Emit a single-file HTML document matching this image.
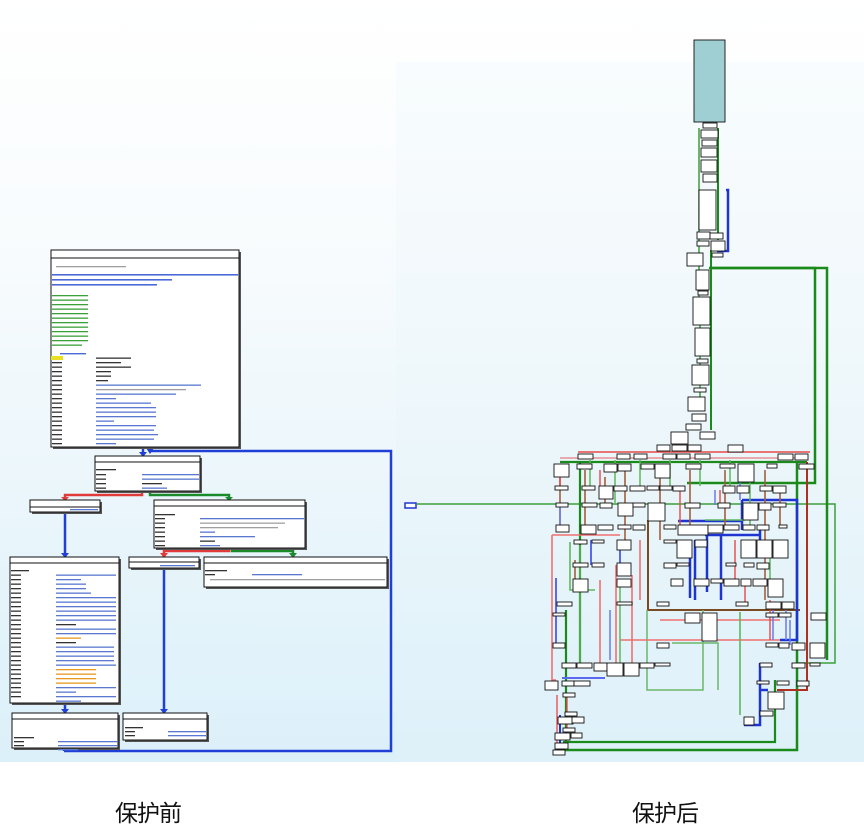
<!DOCTYPE html>
<html><head><meta charset="utf-8"><style>
html,body{margin:0;padding:0;width:864px;height:833px;overflow:hidden;background:#fff}
.lbl{position:absolute;top:794px;font-family:"Liberation Sans","Noto Sans CJK SC",sans-serif;font-size:23px;color:#111;letter-spacing:-1px}
</style></head><body>
<svg width="864" height="833" style="position:absolute;left:0;top:0">
<defs>
<linearGradient id="bg" x1="0" y1="0" x2="0" y2="1">
<stop offset="0" stop-color="#ffffff"/><stop offset="0.35" stop-color="#f7fbfd"/><stop offset="1" stop-color="#dcf0f9"/>
</linearGradient>
</defs>
<rect x="0" y="0" width="864" height="762" fill="url(#bg)"/>
<rect x="396" y="62" width="468" height="700" fill="#e4f3f9" opacity="0.2"/>

<!-- ===== LEFT DIAGRAM ===== -->
<g stroke-width="2.5" fill="none">
<path d="M64,751 H391 V451 H150" stroke="#1f3fd6"/>
<path d="M143,447 V456" stroke="#1f3fd6"/>
<path d="M142,492 V495 H65 V500" stroke="#e03a3a"/>
<path d="M150,492 V495 H229 V500" stroke="#1a8a2a"/>
<path d="M65,512 V557" stroke="#1f3fd6"/>
<path d="M229,548 V551 H164 V557" stroke="#e03a3a"/>
<path d="M232,548 V551 H293 V557" stroke="#1a8a2a"/>
<path d="M164,568 V713" stroke="#1f3fd6"/>
<path d="M65,703 V713" stroke="#1f3fd6"/>
<path d="M64,748 V751" stroke="#1f3fd6"/>
</g>
<g fill="#1f3fd6"><path d="M139,452 L147,452 L143,457Z"/><path d="M146,448 L154,448 L150,454Z"/><path d="M61,553 L69,553 L65,558Z"/><path d="M160,709 L168,709 L164,714Z"/><path d="M61,709 L69,709 L65,714Z"/></g>
<path d="M61,497 L69,497 L65,501Z" fill="#e03a3a"/><path d="M225,497 L233,497 L229,501Z" fill="#1a8a2a"/>
<path d="M160,553 L168,553 L164,558Z" fill="#e03a3a"/><path d="M289,553 L297,553 L293,558Z" fill="#1a8a2a"/>

<g stroke="#111" stroke-width="1" fill="#fff">
<rect x="53" y="252" width="188" height="197" fill="#555" stroke="none"/>
<rect x="51" y="250" width="188" height="197"/>
<rect x="97" y="458" width="105" height="35" fill="#555" stroke="none"/>
<rect x="95" y="456" width="105" height="35"/>
<rect x="32" y="502" width="70" height="12" fill="#555" stroke="none"/>
<rect x="30" y="500" width="70" height="12"/>
<rect x="156" y="502" width="151" height="48" fill="#555" stroke="none"/>
<rect x="154" y="500" width="151" height="48"/>
<rect x="12" y="559" width="109" height="146" fill="#555" stroke="none"/>
<rect x="10" y="557" width="109" height="146"/>
<rect x="131" y="559" width="70" height="11" fill="#555" stroke="none"/>
<rect x="129" y="557" width="70" height="11"/>
<rect x="206" y="559" width="183" height="30" fill="#555" stroke="none"/>
<rect x="204" y="557" width="183" height="30"/>
<rect x="14" y="715" width="106" height="35" fill="#555" stroke="none"/>
<rect x="12" y="713" width="106" height="35"/>
<rect x="125" y="715" width="84" height="27" fill="#555" stroke="none"/>
<rect x="123" y="713" width="84" height="27"/>
<path d="M51,258 H239 M95,462 H200 M30,507 H100 M154,506 H305 M10,563 H119 M129,562 H199 M204,563 H387 M12,719 H118 M123,719 H207" fill="none"/>
</g>
<g fill="#8aa0c8">
<rect x="56" y="266" width="70" height="1.3" fill="#a0a0a0"/>
<rect x="52" y="274" width="186" height="1.6" fill="#4a6ad8"/>
<rect x="52" y="279" width="120" height="1.6" fill="#4a6ad8"/>
<rect x="52" y="284" width="105" height="1.6" fill="#4a6ad8"/>
</g>
<g fill="#3aa03a">
<rect x="52" y="295" width="36" height="1.3"/><rect x="52" y="299.5" width="36" height="1.3"/><rect x="52" y="304" width="36" height="1.3"/><rect x="52" y="308.5" width="36" height="1.3"/><rect x="52" y="313" width="36" height="1.3"/><rect x="52" y="317.5" width="36" height="1.3"/><rect x="52" y="322" width="36" height="1.3"/><rect x="52" y="326.5" width="36" height="1.3"/><rect x="52" y="331" width="36" height="1.3"/><rect x="52" y="335.5" width="36" height="1.3"/><rect x="52" y="340" width="36" height="1.3"/><rect x="52" y="344.5" width="30" height="1.3"/>
</g>
<rect x="60" y="353" width="26" height="1.4" fill="#4a6ad8"/>
<rect x="51" y="356" width="12" height="4" fill="#e8e020"/>
<g fill="#333">
<rect x="52" y="362" width="10" height="1.3"/><rect x="52" y="366.5" width="10" height="1.3"/><rect x="52" y="371" width="10" height="1.3"/><rect x="52" y="375.5" width="10" height="1.3"/><rect x="52" y="380" width="10" height="1.3"/><rect x="52" y="384.5" width="10" height="1.3"/><rect x="52" y="389" width="10" height="1.3"/><rect x="52" y="393.5" width="10" height="1.3"/><rect x="52" y="398" width="10" height="1.3"/><rect x="52" y="402.5" width="10" height="1.3"/><rect x="52" y="407" width="10" height="1.3"/><rect x="52" y="411.5" width="10" height="1.3"/><rect x="52" y="416" width="10" height="1.3"/><rect x="52" y="420.5" width="10" height="1.3"/><rect x="52" y="425" width="10" height="1.3"/><rect x="52" y="429.5" width="10" height="1.3"/><rect x="52" y="434" width="10" height="1.3"/><rect x="52" y="438.5" width="10" height="1.3"/><rect x="52" y="443" width="10" height="1.3"/>
<rect x="96" y="357.5" width="35" height="1.3"/><rect x="96" y="362" width="25" height="1.3"/><rect x="96" y="366.5" width="35" height="1.3"/><rect x="96" y="371" width="15" height="1.3"/><rect x="96" y="375.5" width="15" height="1.3"/><rect x="96" y="380" width="12" height="1.3"/>
</g>
<g fill="#5a78d0">
<rect x="96" y="384.5" width="105" height="1.3"/><rect x="96" y="389" width="90" height="1.3" fill="#a0a0a0"/><rect x="96" y="393.5" width="80" height="1.3"/><rect x="96" y="398" width="20" height="1.3"/><rect x="96" y="402.5" width="55" height="1.3"/><rect x="96" y="407" width="60" height="1.3"/><rect x="96" y="411.5" width="60" height="1.3"/><rect x="96" y="416" width="60" height="1.3"/><rect x="96" y="420.5" width="18" height="1.3"/><rect x="96" y="425" width="60" height="1.3"/><rect x="96" y="429.5" width="58" height="1.3"/><rect x="96" y="434" width="62" height="1.3"/><rect x="96" y="438.5" width="58" height="1.3"/><rect x="96" y="443" width="20" height="1.3"/>
</g>
<g fill="#5a78d0">
<rect x="96" y="469" width="20" height="1.3" fill="#333"/><rect x="96" y="474" width="10" height="1.3" fill="#333"/><rect x="96" y="478.5" width="10" height="1.3" fill="#333"/><rect x="96" y="483" width="10" height="1.3" fill="#333"/><rect x="96" y="487.5" width="10" height="1.3" fill="#333"/>
<rect x="142" y="474" width="57" height="1.3"/><rect x="142" y="478.5" width="57" height="1.3"/><rect x="142" y="483" width="20" height="1.3" fill="#333"/><rect x="142" y="487.5" width="25" height="1.3"/>
<rect x="70" y="509" width="28" height="1.3"/>
<rect x="155" y="514" width="20" height="1.3" fill="#333"/>
<rect x="155" y="518" width="10" height="1.3" fill="#333"/><rect x="155" y="522.5" width="10" height="1.3" fill="#333"/><rect x="155" y="527" width="10" height="1.3" fill="#333"/><rect x="155" y="531.5" width="10" height="1.3" fill="#333"/><rect x="155" y="536" width="10" height="1.3" fill="#333"/><rect x="155" y="540.5" width="10" height="1.3" fill="#333"/><rect x="155" y="545" width="10" height="1.3" fill="#333"/>
<rect x="200" y="518" width="104" height="1.3"/><rect x="200" y="522.5" width="85" height="1.3" fill="#a0a0a0"/><rect x="200" y="527" width="78" height="1.3" fill="#a0a0a0"/><rect x="200" y="531.5" width="15" height="1.3"/><rect x="200" y="536" width="55" height="1.3"/><rect x="200" y="540.5" width="15" height="1.3" fill="#333"/><rect x="200" y="545" width="20" height="1.3"/>
<rect x="160" y="565" width="35" height="1.3"/>
<rect x="205" y="570" width="22" height="1.3" fill="#333"/><rect x="205" y="574" width="10" height="1.3" fill="#333"/><rect x="252" y="574" width="50" height="1.3"/><rect x="210" y="579" width="175" height="1.3" fill="#a0a0a0"/>
<rect x="14" y="737" width="20" height="1.3" fill="#333"/><rect x="14" y="741" width="10" height="1.3" fill="#333"/><rect x="14" y="745" width="10" height="1.3" fill="#333"/><rect x="58" y="741" width="60" height="1.3"/><rect x="58" y="745" width="60" height="1.3"/><rect x="58" y="749" width="20" height="1.3"/>
<rect x="125" y="727" width="18" height="1.3" fill="#333"/><rect x="125" y="731" width="10" height="1.3" fill="#333"/><rect x="125" y="735" width="10" height="1.3" fill="#333"/><rect x="168" y="731" width="38" height="1.3"/><rect x="168" y="735" width="38" height="1.3"/>
</g>
<g fill="#333">
<rect x="11" y="570" width="18" height="1.3"/>
<rect x="11" y="574.5" width="10" height="1.3"/><rect x="11" y="579" width="10" height="1.3"/><rect x="11" y="583.5" width="10" height="1.3"/><rect x="11" y="588" width="10" height="1.3"/><rect x="11" y="592.5" width="10" height="1.3"/><rect x="11" y="597" width="10" height="1.3"/><rect x="11" y="601.5" width="10" height="1.3"/><rect x="11" y="606" width="10" height="1.3"/><rect x="11" y="610.5" width="10" height="1.3"/><rect x="11" y="615" width="10" height="1.3"/><rect x="11" y="619.5" width="10" height="1.3"/><rect x="11" y="624" width="10" height="1.3"/><rect x="11" y="628.5" width="10" height="1.3"/><rect x="11" y="633" width="10" height="1.3"/><rect x="11" y="637.5" width="10" height="1.3"/><rect x="11" y="642" width="10" height="1.3"/><rect x="11" y="646.5" width="10" height="1.3"/><rect x="11" y="651" width="10" height="1.3"/><rect x="11" y="655.5" width="10" height="1.3"/><rect x="11" y="660" width="10" height="1.3"/><rect x="11" y="664.5" width="10" height="1.3"/><rect x="11" y="669" width="10" height="1.3"/><rect x="11" y="673.5" width="10" height="1.3"/><rect x="11" y="678" width="10" height="1.3"/><rect x="11" y="682.5" width="10" height="1.3"/><rect x="11" y="687" width="10" height="1.3"/><rect x="11" y="691.5" width="10" height="1.3"/><rect x="11" y="696" width="10" height="1.3"/>
</g>
<g fill="#5a78d0">
<rect x="56" y="574.5" width="60" height="1.3"/><rect x="56" y="579" width="25" height="1.3"/><rect x="56" y="583.5" width="30" height="1.3"/><rect x="56" y="588" width="30" height="1.3"/><rect x="56" y="592.5" width="35" height="1.3"/><rect x="56" y="597" width="60" height="1.3"/><rect x="56" y="601.5" width="60" height="1.3"/><rect x="56" y="606" width="60" height="1.3"/><rect x="56" y="610.5" width="60" height="1.3"/><rect x="56" y="615" width="60" height="1.3"/><rect x="56" y="619.5" width="60" height="1.3"/><rect x="56" y="624" width="20" height="1.3" fill="#333"/><rect x="56" y="628.5" width="60" height="1.3"/><rect x="56" y="633" width="60" height="1.3"/><rect x="56" y="637.5" width="25" height="1.3" fill="#e89a20"/><rect x="56" y="642" width="20" height="1.3" fill="#333"/><rect x="56" y="646.5" width="58" height="1.3"/><rect x="56" y="651" width="58" height="1.3"/><rect x="56" y="655.5" width="58" height="1.3"/><rect x="56" y="660" width="58" height="1.3"/><rect x="56" y="664.5" width="60" height="1.3"/><rect x="56" y="669" width="40" height="1.3" fill="#e89a20"/><rect x="56" y="673.5" width="40" height="1.3" fill="#e89a20"/><rect x="56" y="678" width="40" height="1.3" fill="#e89a20"/><rect x="56" y="682.5" width="40" height="1.3" fill="#e89a20"/><rect x="56" y="687" width="60" height="1.3"/><rect x="56" y="691.5" width="20" height="1.3"/><rect x="56" y="696" width="60" height="1.3"/><rect x="56" y="700.5" width="25" height="1.3"/>
</g>

<!-- ===== RIGHT DIAGRAM ===== -->
<g fill="none" stroke-linejoin="miter">
<path d="M417,504 H835 V663 H797" stroke="#3aa03a" stroke-width="1.5"/>
<path d="M709,268 H827 V660" stroke="#1a8a1a" stroke-width="2.5"/>
<path d="M712,268 H815 V483 H687" stroke="#1a8a1a" stroke-width="2.5"/>
<path d="M726,190 H728 V251 H717" stroke="#1f35d0" stroke-width="2.5"/>
<path d="M718,128 V240" stroke="#1a8a1a" stroke-width="2"/>
<path d="M699,128 V300 M700,300 V410" stroke="#3aa03a" stroke-width="1.5"/>
<path d="M711,250 V430" stroke="#1a8a1a" stroke-width="2"/>
<path d="M578,452 H810" stroke="#e84848" stroke-width="1.6"/>
<path d="M560,458 H800" stroke="#e84848" stroke-width="1.2" opacity="0.7"/>
<path d="M560,462 H807" stroke="#1a8a1a" stroke-width="2.2"/>
<path d="M580,462 V665 M566,610 V742" stroke="#1a8a1a" stroke-width="2.2"/>
<path d="M557,750 H797 V462" stroke="#1a8a1a" stroke-width="2.5"/>
<path d="M563,742 H775 V680" stroke="#1a8a1a" stroke-width="2.2"/>
<path d="M648,520 V610 H800" stroke="#7a4a20" stroke-width="2"/>
<path d="M647,610 V690 H703 V610" stroke="#6ab86a" stroke-width="1.5"/>
<path d="M672,643 H718 V690" stroke="#6ab86a" stroke-width="1.5"/>
<path d="M552,535 V680 H556 M552,535 H620" stroke="#f07070" stroke-width="1.6"/>
<path d="M600,580 V665 M616,565 V665 M632,575 V665 M640,540 V600" stroke="#f07070" stroke-width="1.6"/>
<path d="M620,640 H790 M660,620 H780" stroke="#f07070" stroke-width="1.6"/>
<path d="M807,462 V690 H777" stroke="#b03020" stroke-width="2"/>
<path d="M742,500 V530 M742,500 H797 V640 H780" stroke="#1f35d0" stroke-width="2.5"/>
<path d="M678,521 H742 M705,535 H760 M695,540 V600 M707,535 V592 M721,535 V600 M690,555 V598 M760,530 V540" stroke="#1f35d0" stroke-width="2.5"/>
<path d="M760,663 V725 H744 M760,690 H768" stroke="#1f35d0" stroke-width="2.5"/>
<path d="M562,678 H605 M556,578 V643 M591,540 V565 M620,540 V563" stroke="#5a6af0" stroke-width="2"/>
<path d="M570,542 V590 H595 M740,677 V715 M705,520 H745 M740,612 V690" stroke="#5cb85c" stroke-width="1.6"/>
<path d="M585,470 V525 M605,477 V503 M625,470 V540 M660,478 V540 M690,470 V525 M725,470 V525 M765,470 V600 M780,490 V525 M560,478 V525 M575,560 V590" stroke="#a06040" stroke-width="1.6"/>
<path d="M590,460 V486 M615,460 V503 M640,460 V486 M670,460 V486 M700,460 V486 M730,460 V486 M750,470 V525 M770,540 V580 M580,545 V663 M620,580 V663" stroke="#5cb85c" stroke-width="1.5"/>
<path d="M560,470 V486 M600,470 V486 M680,490 V525 M720,490 V505 M735,540 V580 M770,600 V640 M745,585 V602" stroke="#e84848" stroke-width="1.4"/>
<path d="M560,503 V525 M715,490 V505 M740,470 V500 M790,620 V645 M773,610 V640 M610,610 V660 M786,610 V640" stroke="#6a7af0" stroke-width="1.5"/>
<path d="M557,695 V755 M567,695 V740" stroke="#e84848" stroke-width="1.3"/>
<path d="M560,715 V748 M553,752 H562" stroke="#1f35d0" stroke-width="2"/>
</g>

<g stroke="#111" stroke-width="0.9" fill="#fff">
<rect x="694" y="40" width="31" height="82" fill="#9fcfd2"/>
<rect x="703" y="123" width="14" height="5"/>
<rect x="701" y="130" width="17" height="8"/>
<rect x="702" y="140" width="15" height="6"/>
<rect x="701" y="148" width="16" height="9"/>
<rect x="701" y="160" width="16" height="12"/>
<rect x="703" y="174" width="14" height="8"/>
<rect x="699" y="190" width="17" height="40"/>
<rect x="697" y="232" width="13" height="7"/>
<rect x="710" y="233" width="13" height="6"/>
<rect x="697" y="241" width="12" height="5"/>
<rect x="711" y="241" width="14" height="10"/>
<rect x="712" y="253" width="11" height="4"/>
<rect x="687" y="253" width="16" height="13"/>
<rect x="696" y="270" width="13" height="20"/>
<rect x="698" y="291" width="10" height="4"/>
<rect x="693" y="297" width="17" height="28"/>
<rect x="695" y="328" width="15" height="28"/>
<rect x="697" y="359" width="11" height="4"/>
<rect x="692" y="365" width="17" height="20"/>
<rect x="694" y="388" width="12" height="4"/>
<rect x="688" y="397" width="17" height="14"/>
<rect x="692" y="414" width="14" height="7"/>
<rect x="405" y="503" width="11" height="5" stroke="#1f35d0" stroke-width="1.5"/>

<rect x="686" y="424" width="15" height="6"/><rect x="671" y="432" width="17" height="12"/><rect x="700" y="432" width="15" height="7"/>
<rect x="657" y="445" width="13" height="6"/><rect x="672" y="445" width="15" height="6"/><rect x="688" y="445" width="13" height="6"/><rect x="728" y="445" width="15" height="7"/>
<rect x="578" y="454" width="15" height="5"/><rect x="617" y="454" width="13" height="5"/><rect x="634" y="454" width="13" height="5"/><rect x="663" y="454" width="13" height="5"/><rect x="677" y="454" width="13" height="5"/><rect x="695" y="454" width="15" height="5"/><rect x="778" y="454" width="15" height="6"/><rect x="795" y="454" width="13" height="6"/>
<rect x="554" y="464" width="15" height="13"/><rect x="577" y="464" width="15" height="5"/><rect x="604" y="464" width="13" height="8"/><rect x="618" y="464" width="13" height="7"/><rect x="641" y="464" width="13" height="5"/><rect x="655" y="464" width="15" height="14"/><rect x="686" y="464" width="15" height="5"/><rect x="720" y="464" width="15" height="4"/><rect x="738" y="464" width="16" height="18"/><rect x="767" y="464" width="10" height="4"/><rect x="799" y="464" width="15" height="5"/>
<rect x="555" y="486" width="13" height="4"/><rect x="582" y="486" width="13" height="4"/><rect x="599" y="486" width="14" height="13"/><rect x="614" y="486" width="13" height="5"/><rect x="630" y="486" width="15" height="5"/><rect x="647" y="486" width="12" height="4"/><rect x="660" y="486" width="12" height="4"/><rect x="673" y="486" width="12" height="5"/><rect x="723" y="486" width="12" height="7"/><rect x="737" y="486" width="12" height="7"/><rect x="760" y="486" width="12" height="5"/><rect x="773" y="486" width="13" height="7"/>
<rect x="556" y="503" width="12" height="4"/><rect x="582" y="503" width="15" height="4"/><rect x="600" y="503" width="12" height="5"/><rect x="618" y="503" width="15" height="13"/><rect x="633" y="503" width="12" height="4"/><rect x="648" y="503" width="17" height="18"/><rect x="685" y="503" width="15" height="5"/><rect x="718" y="503" width="12" height="5"/><rect x="743" y="503" width="15" height="17"/><rect x="759" y="503" width="12" height="7"/><rect x="773" y="503" width="13" height="4"/>
<rect x="556" y="525" width="13" height="7"/><rect x="581" y="525" width="15" height="9"/><rect x="598" y="525" width="15" height="5"/><rect x="618" y="525" width="13" height="4"/><rect x="633" y="525" width="12" height="5"/><rect x="664" y="525" width="12" height="4"/><rect x="678" y="525" width="30" height="10"/><rect x="708" y="525" width="15" height="8"/><rect x="724" y="525" width="15" height="5"/><rect x="743" y="525" width="12" height="5"/><rect x="757" y="525" width="12" height="5"/><rect x="779" y="525" width="8" height="3"/>
<rect x="574" y="540" width="13" height="4"/><rect x="592" y="540" width="12" height="3"/><rect x="617" y="540" width="14" height="10"/><rect x="664" y="540" width="12" height="3"/><rect x="677" y="540" width="15" height="18"/><rect x="695" y="540" width="12" height="7"/><rect x="741" y="540" width="15" height="18"/><rect x="757" y="540" width="15" height="18"/><rect x="773" y="540" width="15" height="18"/>
<rect x="573" y="563" width="15" height="4"/><rect x="592" y="563" width="12" height="4"/><rect x="617" y="563" width="14" height="13"/><rect x="664" y="563" width="12" height="5"/><rect x="677" y="563" width="12" height="3"/><rect x="726" y="563" width="10" height="3"/><rect x="744" y="563" width="10" height="4"/><rect x="757" y="563" width="12" height="6"/>
<rect x="573" y="579" width="15" height="13"/><rect x="617" y="579" width="14" height="8"/><rect x="671" y="579" width="12" height="7"/><rect x="694" y="579" width="15" height="7"/><rect x="711" y="579" width="12" height="4"/><rect x="724" y="579" width="15" height="7"/><rect x="741" y="579" width="10" height="7"/><rect x="753" y="579" width="14" height="7"/><rect x="768" y="579" width="15" height="18"/>
<rect x="557" y="602" width="15" height="4"/><rect x="617" y="602" width="15" height="3"/><rect x="657" y="602" width="12" height="4"/><rect x="736" y="602" width="12" height="4"/><rect x="766" y="602" width="15" height="7"/><rect x="782" y="602" width="12" height="7"/>
<rect x="553" y="613" width="12" height="3"/><rect x="685" y="613" width="15" height="10"/><rect x="702" y="613" width="15" height="28"/><rect x="766" y="613" width="12" height="4"/><rect x="779" y="613" width="12" height="4"/><rect x="811" y="613" width="15" height="7"/>
<rect x="553" y="643" width="12" height="5"/><rect x="657" y="643" width="12" height="5"/><rect x="766" y="643" width="12" height="4"/><rect x="779" y="643" width="10" height="5"/><rect x="792" y="643" width="13" height="7"/><rect x="810" y="643" width="15" height="15"/>
<rect x="562" y="663" width="14" height="5"/><rect x="577" y="663" width="15" height="5"/><rect x="594" y="663" width="13" height="8"/><rect x="607" y="663" width="16" height="13"/><rect x="624" y="663" width="15" height="13"/><rect x="640" y="663" width="14" height="5"/><rect x="655" y="663" width="15" height="3"/><rect x="760" y="663" width="12" height="4"/><rect x="792" y="663" width="13" height="5"/><rect x="810" y="663" width="10" height="3"/>
<rect x="545" y="681" width="13" height="9"/><rect x="562" y="681" width="12" height="5"/><rect x="574" y="681" width="16" height="5"/><rect x="757" y="681" width="12" height="3"/><rect x="777" y="681" width="12" height="4"/><rect x="797" y="681" width="12" height="5"/>
<rect x="563" y="693" width="12" height="4"/><rect x="768" y="692" width="16" height="17"/><rect x="760" y="711" width="13" height="5"/><rect x="744" y="717" width="10" height="8"/>
<rect x="565" y="712" width="12" height="4"/><rect x="558" y="717" width="15" height="7"/><rect x="572" y="717" width="12" height="6"/><rect x="563" y="728" width="12" height="4"/><rect x="555" y="733" width="15" height="7"/><rect x="571" y="733" width="11" height="5"/><rect x="555" y="743" width="13" height="6"/><rect x="553" y="750" width="12" height="5"/>
</g>
</svg>
<div class="lbl" style="left:115px">保护前</div>
<div class="lbl" style="left:632px">保护后</div>
</body></html>
